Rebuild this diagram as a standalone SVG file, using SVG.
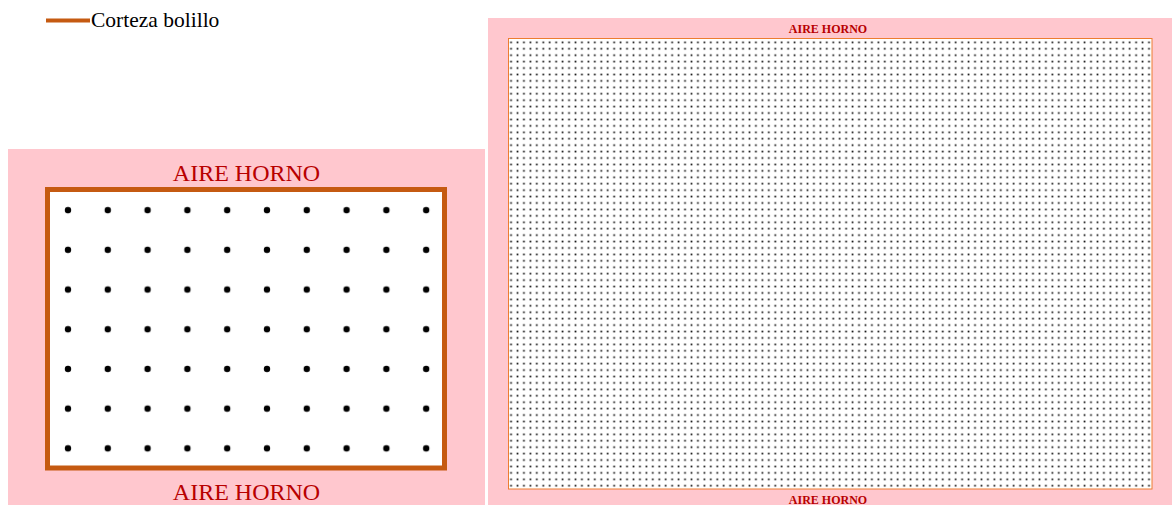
<svg xmlns="http://www.w3.org/2000/svg" width="1172" height="505" viewBox="0 0 1172 505">
<style>
.bg{fill:#FFC7CE}
.lbl{font-family:"Liberation Serif",serif;fill:#B80000;text-anchor:middle}
.big{font-size:24px}
.small{font-size:12px;font-weight:bold}
.leg{font-family:"Liberation Serif","Times New Roman",serif;font-size:21.5px;fill:#000}
</style>
<defs>
<pattern id="fine" patternUnits="userSpaceOnUse" x="507.8" y="39.1" width="6.444" height="6.426">
<rect x="2.4" y="2.4" width="1.7" height="1.7" fill="#111"/>
</pattern>
<pattern id="coarse" patternUnits="userSpaceOnUse" x="48.1" y="190.3" width="39.8" height="39.7">
<circle cx="19.9" cy="19.9" r="3.2" fill="#000"/>
</pattern>
</defs>
<rect width="1172" height="505" fill="#fff"/>
<g id="legend">
<line x1="46" y1="20.5" x2="90" y2="20.5" stroke="#C55A11" stroke-width="4"/>
<text class="leg" x="91" y="27">Corteza bolillo</text>
</g>
<g id="coarse-model">
<rect class="bg" x="8" y="149" width="477" height="356"/>
<rect x="47.5" y="189.5" width="397" height="278.5" fill="#fff" stroke="#C55A11" stroke-width="5"/>
<rect x="50" y="192" width="392" height="273.5" fill="url(#coarse)"/>
<text class="lbl big" x="246.5" y="181">AIRE HORNO</text>
<text class="lbl big" x="246.5" y="500">AIRE HORNO</text>
</g>
<g id="fine-model">
<rect class="bg" x="488" y="18" width="684" height="487"/>
<rect x="508.5" y="38.5" width="643.5" height="450.5" fill="#fff" stroke="#ED7D31" stroke-width="1"/>
<rect x="509" y="39" width="642.5" height="449.5" fill="url(#fine)"/>
<text class="lbl small" x="828" y="32.5">AIRE HORNO</text>
<text class="lbl small" x="828" y="503.5">AIRE HORNO</text>
</g>
</svg>
